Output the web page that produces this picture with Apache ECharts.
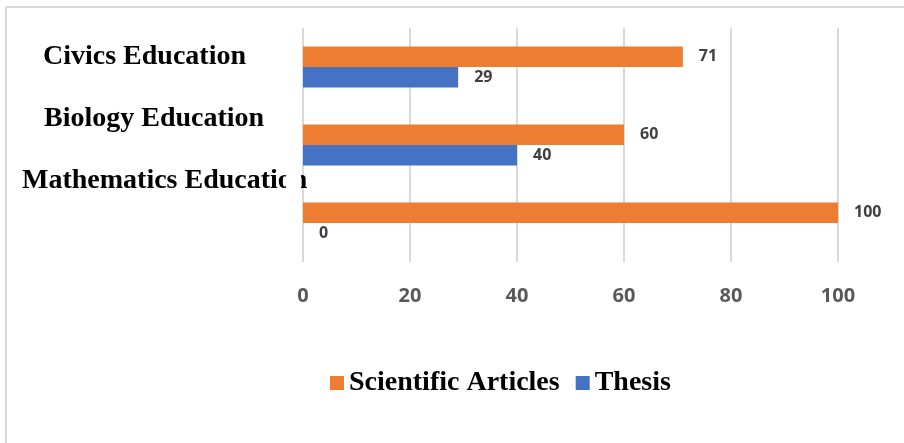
<!DOCTYPE html>
<html>
<head>
<meta charset="utf-8">
<title>Scientific Articles and Thesis by Study Program</title>
<script src="https://cdn.jsdelivr.net/npm/echarts@6/dist/echarts.min.js"></script>
<style>
  html, body { margin: 0; padding: 0; background: #ffffff; }
  #chart { width: 904px; height: 443px; }
</style>
</head>
<body>
<div id="chart"></div>
<script>
// Study programs, bottom to top on the category axis
const categories = ['Mathematics Education', 'Biology Education', 'Civics Education'];
// Percentage share per output type
const scientificArticles = [100, 60, 71];
const thesis = [0, 40, 29];
const xTicks = [0, 20, 40, 60, 80, 100];

const ORANGE = '#ED7D31';
const BLUE = '#4472C4';
const SERIF = '"Liberation Serif", "Times New Roman", serif';
const SANS = '"Open Sans", "Liberation Sans", sans-serif';

// Program names are set as free text to the left of the plot
const labelSpots = { 'Civics Education': [43, 59], 'Biology Education': [44, 121], 'Mathematics Education': [22, 183] };

const chart = echarts.init(document.getElementById('chart'), null, { renderer: 'canvas' });

const graphics = [
  // frame: top and left edges
  { type: 'line', shape: { x1: 6, y1: 7, x2: 904, y2: 7 }, style: { stroke: '#d9d9d9', lineWidth: 2 }, silent: true },
  { type: 'line', shape: { x1: 6, y1: 7, x2: 6, y2: 443 }, style: { stroke: '#d9d9d9', lineWidth: 2 }, silent: true }
];
categories.forEach(function (name) {
  const p = labelSpots[name];
  graphics.push({
    type: 'text', left: p[0], top: p[1] - 16, z: 10,
    style: { text: name, font: 'bold 28px ' + SERIF, fill: '#000000' }
  });
});
// the label box ends before the plot area
graphics.push({ type: 'rect', shape: { x: 286, y: 160, width: 15, height: 50 }, style: { fill: '#ffffff' }, z: 20, silent: true });

const valueLabel = {
  show: true,
  position: 'right',
  distance: 16,
  color: '#404040',
  fontFamily: SANS,
  fontWeight: 'bold',
  fontSize: 16
};

chart.setOption({
  animation: false,
  backgroundColor: '#ffffff',
  grid: { left: 303, right: 66, top: 28, bottom: 181, containLabel: false },
  legend: {
    data: ['Scientific Articles', 'Thesis'],
    left: 325, top: 364,
    icon: 'rect', itemWidth: 14, itemHeight: 14, itemGap: 16,
    textStyle: { fontFamily: SERIF, fontWeight: 'bold', fontSize: 28, color: '#000000' }
  },
  xAxis: {
    type: 'value', min: 0, max: 100, interval: 20,
    axisLine: { show: false }, axisTick: { show: false },
    splitLine: { show: true, lineStyle: { color: '#d9d9d9', width: 2 } },
    axisLabel: {
      margin: 24, color: '#595959', fontFamily: SANS, fontWeight: 'bold', fontSize: 20,
      formatter: function (v) { return xTicks.indexOf(v) >= 0 ? String(v) : ''; }
    }
  },
  yAxis: {
    type: 'category', data: categories,
    axisLine: { show: false }, axisTick: { show: false }, axisLabel: { show: false },
    splitLine: { show: false }
  },
  series: [
    { name: 'Scientific Articles', type: 'bar', data: scientificArticles, barWidth: 20.5, barGap: '0%',
      itemStyle: { color: ORANGE }, label: valueLabel },
    { name: 'Thesis', type: 'bar', data: thesis, barWidth: 20.5, barGap: '0%',
      itemStyle: { color: BLUE }, label: valueLabel }
  ],
  graphic: graphics
});
</script>
</body>
</html>
